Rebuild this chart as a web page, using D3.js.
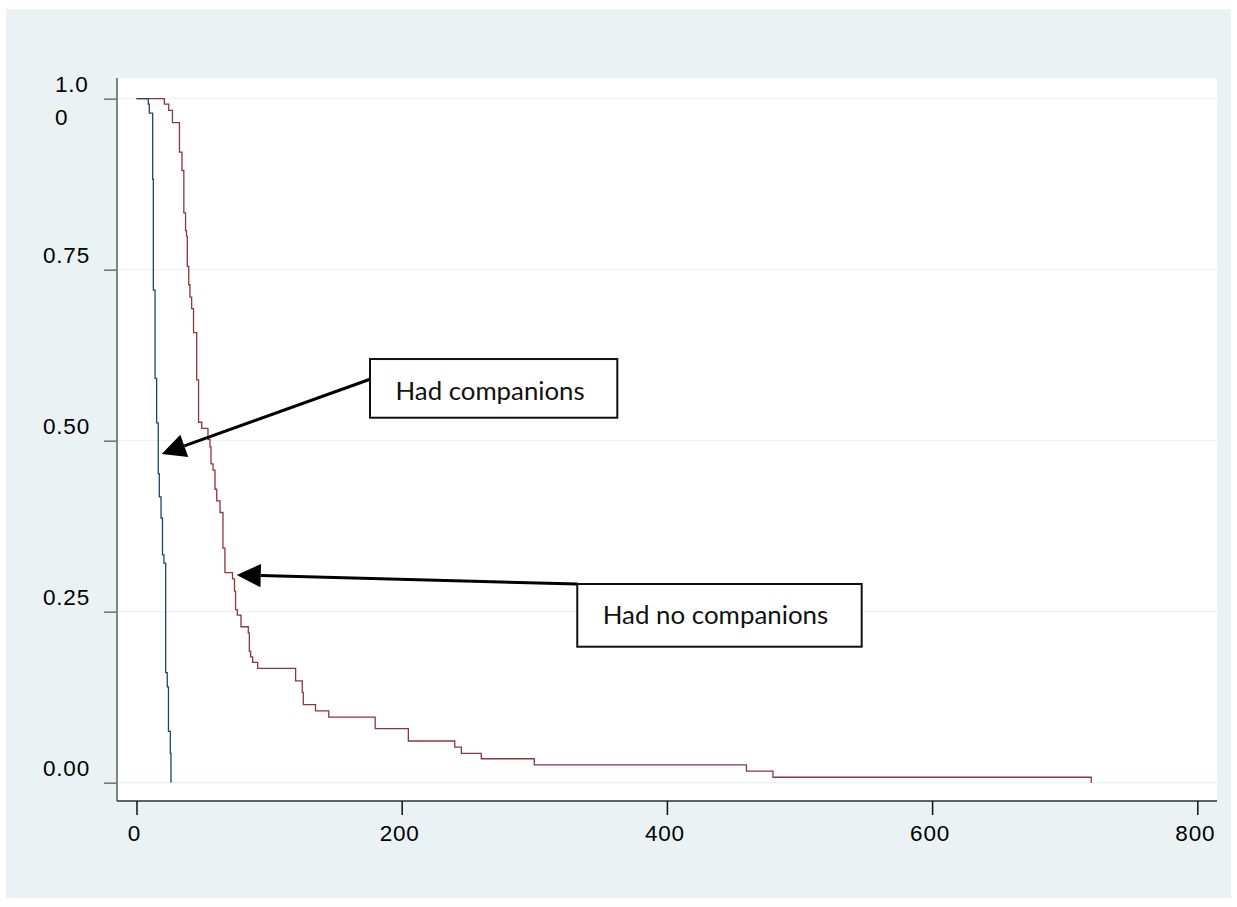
<!DOCTYPE html>
<html>
<head>
<meta charset="utf-8">
<script src="https://cdn.jsdelivr.net/npm/d3@7"></script>
<style>
  html, body { margin: 0; padding: 0; background: #ffffff; }
  svg { display: block; }
</style>
</head>
<body>
<svg id="chart" width="1237" height="907"></svg>
<script>
// ---------------- data ----------------
const xTicks = [0, 200, 400, 600, 800];
const xTickLabels = ["0", "200", "400", "600", "800"];
const yTicks = [1, 0.75, 0.5, 0.25, 0];
const yTickLabels = ["1.00", "0.75", "0.50", "0.25", "0.00"];

// Kaplan-Meier: had companions (blue)
const companionsTimes = [0, 8.9, 9.65, 12.2, 12.7, 14.0, 15.2, 16.4, 17.2, 18.5, 19.6, 20.7, 22.0, 23.2, 24.1, 25.5, 26.0];
const companionsSurv  = [1, 0.992, 0.979, 0.882, 0.720, 0.591, 0.526, 0.452, 0.418, 0.387, 0.333, 0.321, 0.161, 0.140, 0.075, 0.043, 0];

// Kaplan-Meier: had no companions (red)
const noCompanionsTimes = [0, 21, 24.3, 27.1, 32.4, 34.3, 35.7, 37.0, 37.7, 38.3, 39.4, 40.3, 41.6, 43.0, 45.4, 46.8, 49.2, 53.9, 55.4, 56.2, 57.7, 59.2, 60.5, 63.0, 65.2, 66.7, 72.4, 73.9, 74.7, 76.0, 78.8, 84.3, 85.1, 86.1, 87.6, 91.4, 120, 125, 125.8, 135, 145, 180, 205, 240, 245, 260, 300, 460, 480, 720];
const noCompanionsSurv  = [1, 0.992, 0.983, 0.965, 0.922, 0.895, 0.833, 0.807, 0.799, 0.755, 0.728, 0.710, 0.693, 0.658, 0.589, 0.527, 0.518, 0.502, 0.491, 0.466, 0.457, 0.429, 0.412, 0.395, 0.343, 0.307, 0.298, 0.280, 0.253, 0.245, 0.228, 0.219, 0.192, 0.184, 0.176, 0.167, 0.149, 0.132, 0.114, 0.105, 0.096, 0.079, 0.061, 0.052, 0.043, 0.035, 0.026, 0.017, 0.008, 0];

// annotations (data coordinates)
const annotationLabels = ["Had companions", "Had no companions"];
const annotationBoxes = [
  {t0: 176.1, s0: 0.6194, t1: 362.6, s1: 0.5336},
  {t0: 332.4, s0: 0.2905, t1: 546.9, s1: 0.1988}
];
const annotationArrows = [
  {fromT: 176.1, fromS: 0.5898, toT: 19.0, toS: 0.4806},
  {fromT: 332.4, fromS: 0.2905, toT: 75.6, toS: 0.3037}
];

// ---------------- layout ----------------
const plot = {left: 117, right: 1217, top: 78, bottom: 801};
const svg = d3.select("#chart");

const x = d3.scaleLinear().domain([0, 800]).range([136.5, 1197.3]);
const y = d3.scaleLinear().domain([0, 1]).range([782.7, 98.7]);

// outer panel
svg.append("rect").attr("x", 6).attr("y", 9).attr("width", 1225).attr("height", 889)
  .attr("fill", "#eaf2f3");
// plot region
svg.append("rect").attr("x", plot.left).attr("y", plot.top)
  .attr("width", plot.right - plot.left).attr("height", plot.bottom - plot.top)
  .attr("fill", "#ffffff");

// gridlines
svg.append("g").selectAll("line").data(yTicks).join("line")
  .attr("x1", plot.left).attr("x2", plot.right)
  .attr("y1", d => y(d)).attr("y2", d => y(d))
  .attr("stroke", "#eaf2f3").attr("stroke-width", 1.2);

// curves
const line = d3.line().x(d => x(d[0])).y(d => y(d[1])).curve(d3.curveStepAfter);
const blueData = companionsTimes.map((t, i) => [t, companionsSurv[i]]);
const redData = noCompanionsTimes.map((t, i) => [t, noCompanionsSurv[i]]);

svg.append("path").attr("d", line(redData)).attr("fill", "none")
  .attr("stroke", "#90353b").attr("stroke-width", 1.3);
svg.append("path").attr("d", line(blueData)).attr("fill", "none")
  .attr("stroke", "#1a476f").attr("stroke-width", 1.3);

// axes
const yAxis = svg.append("g").attr("transform", `translate(${plot.left},0)`)
  .call(d3.axisLeft(y).tickValues(yTicks).tickSize(13).tickFormat(""));
yAxis.select(".domain").attr("d", `M0,${plot.top}V${plot.bottom}`)
  .attr("stroke", "#444").attr("stroke-width", 1.3);
yAxis.selectAll(".tick line").attr("stroke", "#777").attr("stroke-width", 1.6);

const xAxis = svg.append("g").attr("transform", `translate(0,${plot.bottom})`)
  .call(d3.axisBottom(x).tickValues(xTicks).tickSize(14).tickFormat(""));
xAxis.select(".domain").attr("d", `M${plot.left},0H${plot.right}`)
  .attr("stroke", "#333").attr("stroke-width", 1.5);
xAxis.selectAll(".tick line").attr("stroke", "#111").attr("stroke-width", 1.5);

// tick labels
const labelFont = "'Liberation Sans', Arial, Helvetica, sans-serif";
svg.append("g").selectAll("text").data(xTicks).join("text")
  .attr("x", d => x(d) - 2).attr("y", 841)
  .attr("text-anchor", "middle")
  .attr("font-family", labelFont).attr("font-size", 22.5)
  .attr("letter-spacing", "0.8px")
  .attr("fill", "#000")
  .text((d, i) => xTickLabels[i]);

yTicks.forEach((d, i) => {
  const lab = yTickLabels[i];
  if (lab === "1.00") {
    const t = svg.append("text").attr("font-family", labelFont).attr("font-size", 22.5)
      .attr("letter-spacing", "0.8px").attr("fill", "#000");
    t.append("tspan").attr("x", 55).attr("y", y(d) - 6.7).text(lab.slice(0, 3));
    t.append("tspan").attr("x", 55).attr("y", y(d) + 26.3).text(lab.slice(3));
  } else {
    svg.append("text").attr("x", 90).attr("y", y(d) - 6.5)
      .attr("text-anchor", "end")
      .attr("font-family", labelFont).attr("font-size", 22.5)
      .attr("letter-spacing", "0.8px").attr("fill", "#000")
      .text(lab);
  }
});

// annotations
const annFont = "Lato, 'Open Sans', 'Noto Sans', sans-serif";
const targetWidths = [189.3, 225.6];
annotationArrows.forEach(a => {
  const x1 = x(a.fromT), y1 = y(a.fromS), x2 = x(a.toT), y2 = y(a.toS);
  const ang = Math.atan2(y2 - y1, x2 - x1);
  const len = 24, half = 11.7;
  const bx = x2 - len * Math.cos(ang), by = y2 - len * Math.sin(ang);
  svg.append("line").attr("x1", x1).attr("y1", y1).attr("x2", bx).attr("y2", by)
    .attr("stroke", "#000").attr("stroke-width", 3);
  const p1 = [bx + half * Math.sin(ang), by - half * Math.cos(ang)];
  const p2 = [bx - half * Math.sin(ang), by + half * Math.cos(ang)];
  svg.append("path").attr("d", `M${x2},${y2}L${p1[0]},${p1[1]}L${p2[0]},${p2[1]}Z`)
    .attr("fill", "#000");
});
annotationBoxes.forEach((b, i) => {
  const bx0 = x(b.t0), by0 = y(b.s0), bx1 = x(b.t1), by1 = y(b.s1);
  svg.append("rect").attr("x", bx0).attr("y", by0)
    .attr("width", bx1 - bx0).attr("height", by1 - by0)
    .attr("fill", "#ffffff").attr("stroke", "#111").attr("stroke-width", 2);
  const txt = svg.append("text").attr("x", bx0 + 25.5).attr("y", by0 + 40.5)
    .attr("font-family", annFont).attr("font-size", 28).attr("fill", "#111")
    .text(annotationLabels[i]);
  const w = txt.node().getComputedTextLength();
  if (w > 0) txt.attr("font-size", 28 * targetWidths[i] / w);
});
</script>
</body>
</html>
